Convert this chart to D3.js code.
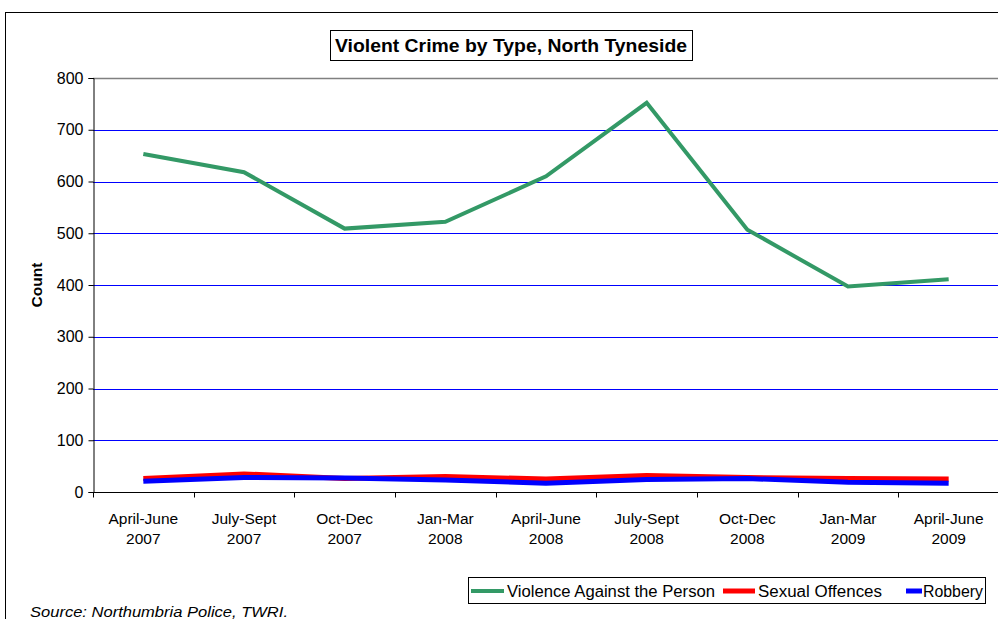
<!DOCTYPE html>
<html><head><meta charset="utf-8">
<script src="https://cdn.jsdelivr.net/npm/d3@7"></script>
<style>
body{margin:0;background:#fff;}
svg{display:block;font-family:"Liberation Sans",Arial,sans-serif;}
</style></head>
<body>
<svg id="c" width="998" height="619"></svg>
<script>
const categories = [
  ["April-June","2007"],["July-Sept","2007"],["Oct-Dec","2007"],["Jan-Mar","2008"],
  ["April-June","2008"],["July-Sept","2008"],["Oct-Dec","2008"],["Jan-Mar","2009"],["April-June","2009"]
];
const violence = [653, 618, 509, 522, 610, 752, 507, 397, 411];
const sexual   = [26, 35, 26, 30, 25, 32, 28, 26, 25];
const robbery  = [21, 28, 27, 23, 17, 24, 26, 19, 17];
const yTicks = [0,100,200,300,400,500,600,700,800];
const seriesNames = ["Violence Against the Person","Sexual Offences","Robbery"];
const seriesColors = ["#339966","#ff0000","#0000ff"];

const svg = d3.select("#c");
svg.append("rect").attr("x",5.5).attr("y",12.5).attr("width",1000).attr("height",620)
  .attr("fill","#fff").attr("stroke","#000").attr("stroke-width",1);

const L=93, R=999, T=78, B=492;
const x = d3.scaleBand().domain(d3.range(categories.length)).range([L,R]).paddingInner(0).paddingOuter(0);
const y = d3.scaleLinear().domain([0,800]).range([B,T]);

svg.append("g").selectAll("line").data(yTicks.filter(t=>t>0 && t<800)).join("line")
  .attr("x1",L).attr("x2",R).attr("y1",d=>Math.round(y(d))+0.5).attr("y2",d=>Math.round(y(d))+0.5)
  .attr("stroke","#0000ff").attr("stroke-width",1);
svg.append("line").attr("x1",L).attr("x2",R).attr("y1",T+0.5).attr("y2",T+0.5).attr("stroke","#808080").attr("stroke-width",1.5);

const yAxis = d3.axisLeft(y).tickValues(yTicks).tickSize(5).tickPadding(5);
const gy = svg.append("g").attr("transform",`translate(${L+0.5},0)`).call(yAxis);
gy.select(".domain").attr("stroke","#000");
gy.selectAll(".tick line").attr("stroke","#000");
gy.selectAll("text").attr("font-size",16).attr("fill","#000").attr("font-family","Liberation Sans, Arial");

const xEdge = d3.scaleLinear().domain([0,categories.length]).range([L,R]);
const gx = svg.append("g").attr("transform",`translate(0,${B+0.5})`);
gx.append("line").attr("x1",L).attr("x2",R).attr("stroke","#000");
gx.selectAll("line.t").data(d3.range(categories.length+1)).join("line").attr("class","t")
  .attr("x1",d=>Math.round(xEdge(d))+0.5).attr("x2",d=>Math.round(xEdge(d))+0.5).attr("y1",0).attr("y2",5).attr("stroke","#000");
const lab = gx.selectAll("text").data(categories).join("text")
  .attr("text-anchor","middle").attr("font-size",15.5).attr("fill","#000")
  .attr("transform",(d,i)=>`translate(${x(i)+x.bandwidth()/2},0)`);
lab.append("tspan").attr("x",0).attr("y",31).text(d=>d[0]);
lab.append("tspan").attr("x",0).attr("y",51).text(d=>d[1]);

svg.append("text").attr("transform","translate(42,285) rotate(-90)").attr("text-anchor","middle")
  .attr("font-size",15.5).attr("font-weight","bold").text("Count");

const line = d3.line().x((d,i)=>x(i)+x.bandwidth()/2).y(d=>y(d));
const data = [violence, sexual, robbery];
const widths = [4,5,5];
[1,2,0].forEach(k=>{
  svg.append("path").datum(data[k]).attr("d",line).attr("fill","none")
    .attr("stroke",seriesColors[k]).attr("stroke-width",widths[k]).attr("stroke-linejoin","miter");
});

const tg = svg.append("g");
tg.append("rect").attr("x",330.5).attr("y",30.5).attr("width",362).attr("height",30).attr("fill","#fff").attr("stroke","#000");
tg.append("text").attr("x",511).attr("y",52).attr("text-anchor","middle").attr("font-size",19).attr("font-weight","bold")
  .attr("textLength",352).attr("lengthAdjust","spacingAndGlyphs").text("Violent Crime by Type, North Tyneside");

const lg = svg.append("g");
lg.append("rect").attr("x",468.5).attr("y",577.5).attr("width",517).attr("height",26).attr("fill","#fff").attr("stroke","#000");
const legLine = [[471,504],[723,755],[906,922]];
const legTextX = [507, 758, 923];
const legTL = [208, 124, 60];
seriesNames.forEach((n,i)=>{
  lg.append("line").attr("x1",legLine[i][0]).attr("x2",legLine[i][1]).attr("y1",591).attr("y2",591)
    .attr("stroke",seriesColors[i]).attr("stroke-width",i===0?4:5);
  lg.append("text").attr("x",legTextX[i]).attr("y",597).attr("font-size",16)
    .attr("textLength",legTL[i]).attr("lengthAdjust","spacingAndGlyphs").text(n);
});

svg.append("text").attr("x",30).attr("y",617).attr("font-size",15).attr("font-style","italic")
  .attr("textLength",258).attr("lengthAdjust","spacingAndGlyphs").text("Source: Northumbria Police, TWRI.");
</script>
</body></html>
